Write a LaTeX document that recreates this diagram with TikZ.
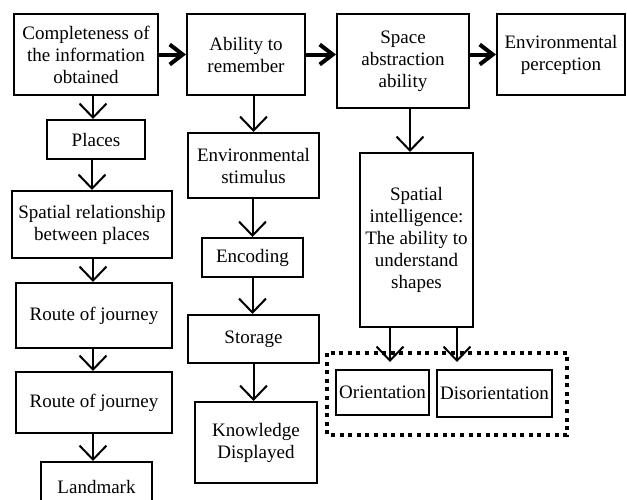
\documentclass[tikz,border=0pt]{standalone}
\usepackage{fontspec}
\setmainfont{Liberation Serif}
\usetikzlibrary{arrows.meta,calc}
\begin{document}
\begin{tikzpicture}[x=1pt,y=-1pt,
  box/.style={draw,line width=2pt,align=center,inner sep=0pt,font=\fontsize{19}{22}\selectfont},
  varr/.style={line width=2pt,-{Straight Barb[length=14pt,width=27pt]}},
  harr/.style={line width=4pt,-{Straight Barb[length=13pt,width=20pt]}},
  dotbox/.style={line width=4pt,dash pattern=on 4pt off 4.6pt}]
\useasboundingbox (0,0) rectangle (627,499);
\node[box,minimum width=144pt,minimum height=81pt] (comp) at (86,54.5) {Completeness of\\the information\\obtained};
\node[box,minimum width=118pt,minimum height=81pt] (abil) at (246,54.5) {Ability to\\remember};
\node[box,minimum width=132pt,minimum height=94pt] (space) at (403,61) {Space\\abstraction\\ability};
\node[box,minimum width=128pt,minimum height=81pt] (envp) at (561,54.5) {Environmental\\perception};
\node[box,minimum width=98pt,minimum height=39pt] (places) at (96,139.5) {Places};
\node[box,minimum width=160pt,minimum height=67pt] (spat) at (92,224.5) {Spatial relationship\\between places};
\node[box,minimum width=156pt,minimum height=65pt] (route1) at (94,315.5) {Route of journey};
\node[box,minimum width=156pt,minimum height=61pt] (route2) at (94,402.5) {Route of journey};
\node[box,minimum width=111pt,minimum height=50pt] (land) at (96.5,487) {Landmark};
\node[box,minimum width=131pt,minimum height=65pt] (envs) at (253.5,165.5) {Environmental\\stimulus};
\node[box,minimum width=101pt,minimum height=39pt] (enc) at (252.5,257.5) {Encoding};
\node[box,minimum width=131pt,minimum height=48pt] (stor) at (253.5,339) {Storage};
\node[box,minimum width=122pt,minimum height=81pt] (know) at (256,442.5) {Knowledge\\Displayed};
\node[box,minimum width=113pt,minimum height=174pt] (si) at (416.5,240) {Spatial\\intelligence:\\The ability to\\understand\\shapes};
\node[box,minimum width=93pt,minimum height=45pt] (ori) at (382.5,392.5) {Orientation};
\node[box,minimum width=115pt,minimum height=47pt] (dis) at (494.5,393.5) {Disorientation};
\draw[dotbox] (327,353) rectangle (567,435);
% horizontal
\draw[harr] (comp.east) -- (comp.east -| abil.west);
\draw[harr] (abil.east) -- (abil.east -| space.west);
\draw[harr] (space.east |- envp.west) -- (envp.west);
% column 1
\draw[varr] ([xshift=-3pt]places.north |- comp.south) -- ([xshift=-3pt]places.north);
\draw[varr] (spat.north |- places.south) -- (spat.north);
\draw[varr] ([xshift=1pt]spat.south) -- ([xshift=1pt]spat.south |- route1.north);
\draw[varr] ([xshift=-1pt]route1.south) -- ([xshift=-1pt]route1.south |- route2.north);
\draw[varr] ([xshift=-1pt]route2.south) -- ([xshift=-1pt]route2.south |- land.north);
% column 2
\draw[varr] (envs.north |- abil.south) -- (envs.north);
\draw[varr] (enc.north |- envs.south) -- (enc.north);
\draw[varr] (enc.south) -- (enc.south |- stor.north);
\draw[varr] (stor.south) -- (stor.south |- know.north);
% column 3
\draw[varr] ([xshift=7pt]space.south) -- ([xshift=7pt]space.south |- si.north);
\draw[varr,shorten >=7pt] ([xshift=-26.5pt]si.south) -- ([xshift=-26.5pt]si.south |- ori.north);
\draw[varr,shorten >=7pt] ([xshift=40.5pt]si.south) -- ([xshift=40.5pt]si.south |- dis.north);
\end{tikzpicture}
\end{document}
